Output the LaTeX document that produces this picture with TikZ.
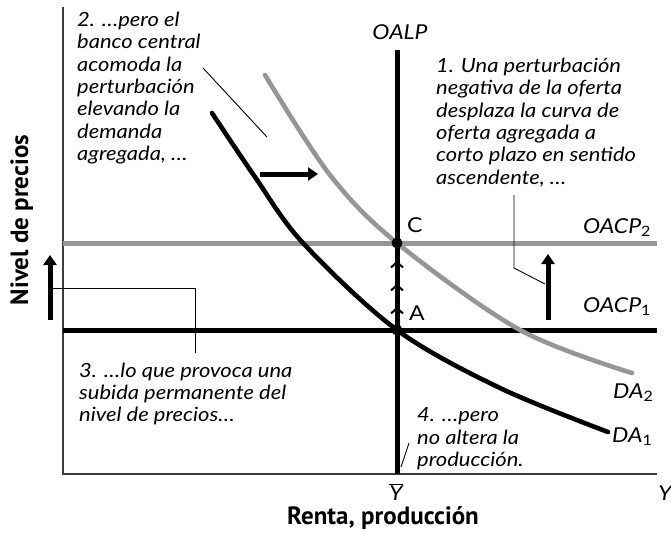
\documentclass[tikz,border=0pt]{standalone}
\usepackage{fontspec}
\setmainfont{Lato}
\newfontfamily\notefont{Lato}[FakeStretch=1.12]
\newfontfamily\axisfont{PT Sans}
\usetikzlibrary{arrows.meta}
\definecolor{cgray}{RGB}{150,150,153}
\definecolor{axisgray}{RGB}{60,60,60}
\begin{document}
\begin{tikzpicture}[x=1pt,y=-1pt,
  note/.style={font=\notefont\itshape\fontsize{19.6}{22.3}\selectfont, align=left, inner sep=0pt, anchor=north west},
  lbl/.style={font=\notefont\fontsize{20.5}{22}\selectfont, inner sep=0pt},
  axlbl/.style={font=\axisfont\bfseries\fontsize{25}{28}\selectfont, inner sep=0pt},
  leader/.style={line width=0.9pt, black},
  axisline/.style={line width=1.8pt, axisgray},
  bigline/.style={line width=5pt},
  curveline/.style={line width=4.6pt, line cap=round},
  shiftarrow/.style={line width=5pt, -{Triangle[length=10pt,width=13pt]}},
  chevron/.style={line width=2pt, black, line cap=butt, line join=miter},
  eqdot/.style={circle, fill=black, inner sep=0pt, minimum size=11pt}]
\useasboundingbox (0,0) rectangle (671,532);

% axes
\coordinate (ytop) at (63,7);
\coordinate (orig) at (63,474);
\coordinate (xend) at (657,474);
\draw[axisline] (ytop) -- (orig) -- (xend);

% short-run supply lines
\coordinate (s2l) at (63,243);
\coordinate (s2r) at (657,243);
\coordinate (s1l) at (63,330);
\coordinate (s1r) at (657,330);
\draw[bigline, cgray] (s2l) -- (s2r);
\draw[bigline, black] (s1l) -- (s1r);

% demand curves
\draw[curveline, black] plot[smooth, tension=0.55] coordinates {(212,113) (255,177) (303,243) (397,330) (500,388) (608,432)};
\draw[curveline, cgray] plot[smooth, tension=0.55] coordinates {(265,75) (330,175) (397,243) (520,330) (632,373)};

% long-run supply
\coordinate (lrtop) at (397,50);
\coordinate (lrbot) at (397,474);
\draw[bigline, black] (lrtop) -- (lrbot);

% chevrons between A and C
\foreach \yy in {262,285,308} {
  \draw[chevron] (391,\yy+5.5) -- (397,\yy) -- (403,\yy+5.5);
}

% equilibrium points
\node[eqdot] (C) at (397,243) {};
\node[eqdot] (A) at (397,330) {};

% shift arrows
\coordinate (rs) at (260,174); \coordinate (re) at (318,174);
\draw[shiftarrow] (rs) -- (re);
\coordinate (us) at (548,320); \coordinate (ue) at (548,254);
\draw[shiftarrow] (us) -- (ue);
\coordinate (ls) at (50,320); \coordinate (le) at (50,255);
\draw[shiftarrow] (ls) -- (le);

% notes
\node[note] (n2) at (77,12) {2. …pero el\\banco central\\acomoda la\\perturbación\\elevando la\\demanda\\agregada, …};
\node[note] (n1) at (436,58) {1. Una perturbación\\negativa de la oferta\\desplaza la curva de\\oferta agregada a\\corto plazo en sentido\\ascendente, …};
\node[note] (n3) at (79,362.5) {3. …lo que provoca una\\subida permanente del\\nivel de precios…};
\node[note] (n4) at (417,407.5) {4. …pero\\no altera la\\producción.};

% leaders
\coordinate (l2a) at (203,68); \coordinate (l2b) at (267,137);
\draw[leader] (l2a) -- (l2b);
\coordinate (l1a) at (514,195); \coordinate (l1b) at (514,268); \coordinate (l1c) at (545,284);
\draw[leader] (l1a) -- (l1b) -- (l1c);
\coordinate (l3a) at (53,288); \coordinate (l3b) at (195,288); \coordinate (l3c) at (195,353);
\draw[leader] (l3a) -- (l3b) -- (l3c);
\coordinate (l4a) at (401,467); \coordinate (l4b) at (409,443);
\draw[leader] (l4a) -- (l4b);

% curve labels
\node[lbl, anchor=base] (oalp) at (400,40) {\itshape OALP};
\node[lbl, anchor=base west] (clab) at (407,232) {C};
\node[lbl, anchor=base west] (alab) at (409,320) {A};
\node[lbl, anchor=base west] (oacp2) at (583,233) {\itshape OACP\textsubscript{\upshape 2}};
\node[lbl, anchor=base west] (oacp1) at (583,312) {\itshape OACP\textsubscript{\upshape 1}};
\node[lbl, anchor=base west] (da2) at (613,398) {\itshape DA\textsubscript{\upshape 2}};
\node[lbl, anchor=base west] (da1) at (612,442) {\itshape DA\textsubscript{\upshape 1}};
\node[lbl, anchor=base] (ybar) at (396,500) {$\overline{\mbox{\notefont\itshape Y}}$};
\node[lbl, anchor=base] (ylab) at (665,500) {\itshape Y};

% axis labels
\node[axlbl, anchor=base] (xlab) at (383,524) {Renta, producción};
\node[axlbl, anchor=base, rotate=90] (ylab2) at (28,220) {Nivel de precios};
\end{tikzpicture}
\end{document}
